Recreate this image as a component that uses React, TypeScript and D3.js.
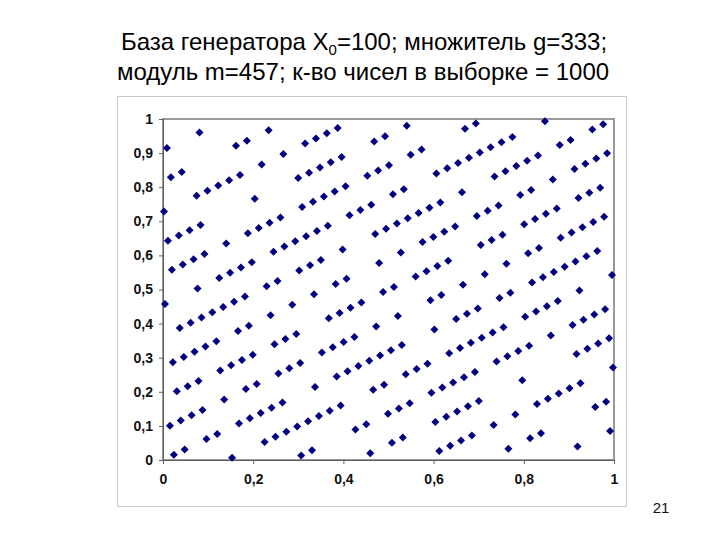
import React, { useRef, useEffect } from 'react';
import * as d3 from 'd3';

const titleLine1 = ['База генератора X', '0', '=100; множитель g=333;'];
const titleLine2 = 'модуль m=457; к-во чисел в выборке = 1000';
const pageNumber = '21';
const modulus = 457;

// one full period of the generator X(n+1) = 333*X(n) mod 457, X0 = 100
const sampleX = [
  100, 396, 252, 285, 306, 444, 241, 278, 260, 207, 381, 284, 430, 149, 261, 83, 219, 264, 168, 190,
  204, 296, 313, 33, 21, 138, 254, 37, 439, 404, 174, 360, 146, 176, 112, 279, 136, 45, 361, 22,
  14, 92, 17, 177, 445, 117, 116, 240, 402, 422, 227, 186, 243, 30, 393, 167, 314, 366, 316, 118,
  449, 78, 382, 160, 268, 129, 456, 124, 162, 20, 262, 416, 57, 244, 363, 231, 147, 52, 407, 259,
  331, 86, 304, 235, 108, 318, 327, 125, 38, 315, 242, 154, 98, 187, 119, 325, 373, 362, 355, 309,
  72, 212, 218, 388, 330, 210, 9, 255, 370, 277, 384, 369, 401, 89, 389, 206, 48, 446, 450, 411,
  220, 140, 6, 170, 399, 337, 256, 246, 115, 364, 107, 442, 32, 145, 300, 274, 299, 398, 4, 418,
  266, 377, 323, 164, 229, 395, 376, 447, 326, 249, 200, 335, 47, 113, 155, 431, 25, 99, 63, 414,
  305, 111, 403, 298, 65, 166, 438, 71, 336, 380, 408, 135, 169, 66, 42, 276, 51, 74, 421, 351,
  348, 263, 292, 352, 224, 101, 272, 90, 265, 44, 28, 184, 34, 354, 433, 234, 232, 23, 347, 387,
  454, 372, 29, 60, 329, 334, 171, 275, 175, 236, 441, 156, 307, 320, 79, 258, 455, 248, 324, 40,
  67, 375, 114, 31, 269, 5, 294, 104, 357, 61, 205, 172, 151, 13, 216, 179, 197, 250, 76, 173,
  27, 308, 196, 374, 238, 193, 289, 267, 253, 161, 144, 424, 436, 319, 203, 420, 18, 53, 283, 97,
  311, 281, 345, 178, 321, 412, 96, 435, 443, 365, 440, 280, 12, 340, 341, 217, 55, 35, 230, 271,
  214, 427, 64, 290, 143, 91, 141, 339, 8, 379, 75, 297, 189, 328, 1, 333, 295, 437, 195, 41,
  400, 213, 94, 226, 310, 405, 50, 198, 126, 371, 153, 222, 349, 139, 130, 332, 419, 142, 215, 303,
  359, 270, 338, 132, 84, 95, 102, 148, 385, 245, 239, 69, 127, 247, 448, 202, 87, 180, 73, 88,
  56, 368, 68, 251, 409, 11, 7, 46, 237, 317, 451, 287, 58, 120, 201, 211, 342, 93, 350, 15,
  425, 312, 157, 183, 158, 59, 453, 39, 191, 80, 134, 293, 228, 62, 81, 10, 131, 208, 257, 122,
  410, 344, 302, 26, 432, 358, 394, 43, 152, 346, 54, 159, 392, 291, 19, 386, 121, 77, 49, 322,
  288, 391, 415, 181, 406, 383, 36, 106, 109, 194, 165, 105, 233, 356, 185, 367, 192, 413, 429, 273,
  423, 103, 24, 223, 225, 434, 110, 70, 3, 85, 428, 397, 128, 123, 286, 182, 282, 221, 16, 301,
  150, 137, 378, 199, 2, 209, 133, 417, 390, 82, 343, 426, 188, 452, 163, 353,
];

const yTicks = [0, 0.1, 0.2, 0.3, 0.4, 0.5, 0.6, 0.7, 0.8, 0.9, 1];
const yTickLabels = ['0', '0,1', '0,2', '0,3', '0,4', '0,5', '0,6', '0,7', '0,8', '0,9', '1'];
const xTicks = [0, 0.2, 0.4, 0.6, 0.8, 1];
const xTickLabels = ['0', '0,2', '0,4', '0,6', '0,8', '1'];

const FONT = '"Liberation Sans", Arial, sans-serif';

function App() {
  const svgRef = useRef(null);
  const width = 720;
  const height = 540;
  const plot = { left: 163, top: 119, right: 614, bottom: 460 };

  useEffect(() => {
    const svg = d3.select(svgRef.current);
    svg.selectAll('*').remove();

    // (X(n), X(n+1)) pairs as on the slide: every third pair is not plotted
    const pairs = sampleX
      .slice(0, -1)
      .map((x, i) => ({ i, x: x / modulus, y: sampleX[i + 1] / modulus }))
      .filter((d) => d.i % 3 !== 2);

    const xScale = d3.scaleLinear().domain([0, 1]).range([plot.left, plot.right]);
    const yScale = d3.scaleLinear().domain([0, 1]).range([plot.bottom, plot.top]);

    svg.append('rect').attr('width', width).attr('height', height).attr('fill', '#fff');

    // title
    const t1 = svg
      .append('text')
      .attr('x', 364)
      .attr('y', 50)
      .attr('text-anchor', 'middle')
      .attr('font-family', FONT)
      .attr('font-size', 24)
      .attr('fill', '#000');
    t1.append('tspan').text(titleLine1[0]);
    t1.append('tspan').attr('font-size', 15).attr('dy', 5).text(titleLine1[1]);
    t1.append('tspan').attr('dy', -5).text(titleLine1[2]);

    svg
      .append('text')
      .attr('x', 363)
      .attr('y', 80)
      .attr('text-anchor', 'middle')
      .attr('font-family', FONT)
      .attr('font-size', 24)
      .attr('fill', '#000')
      .text(titleLine2);

    // chart frame
    svg
      .append('rect')
      .attr('x', 117.5)
      .attr('y', 96.5)
      .attr('width', 509)
      .attr('height', 410)
      .attr('fill', 'none')
      .attr('stroke', '#c8c8c8');

    // plot area border
    svg
      .append('rect')
      .attr('x', plot.left)
      .attr('y', plot.top)
      .attr('width', plot.right - plot.left)
      .attr('height', plot.bottom - plot.top)
      .attr('fill', 'none')
      .attr('stroke', '#9a9a9a')
      .attr('stroke-width', 2);

    const yAxis = d3
      .axisLeft(yScale)
      .tickValues(yTicks)
      .tickFormat((d, i) => yTickLabels[i])
      .tickSize(4)
      .tickPadding(6);
    const yAxisGroup = svg.append('g').attr('transform', `translate(${plot.left},0)`).call(yAxis);
    yAxisGroup.select('.domain').attr('stroke', '#606060');
    yAxisGroup.selectAll('line').attr('stroke', '#606060');
    yAxisGroup
      .selectAll('text')
      .attr('font-family', FONT)
      .attr('font-size', 14)
      .attr('font-weight', 'bold')
      .attr('fill', '#111');

    const xAxis = d3
      .axisBottom(xScale)
      .tickValues(xTicks)
      .tickFormat((d, i) => xTickLabels[i])
      .tickSize(4)
      .tickPadding(10);
    const xAxisGroup = svg.append('g').attr('transform', `translate(0,${plot.bottom})`).call(xAxis);
    xAxisGroup.select('.domain').attr('stroke', '#606060');
    xAxisGroup.selectAll('line').attr('stroke', '#606060');
    xAxisGroup
      .selectAll('text')
      .attr('font-family', FONT)
      .attr('font-size', 14)
      .attr('font-weight', 'bold')
      .attr('fill', '#111');

    const diamond = d3.symbol(d3.symbolSquare, 32);
    svg
      .append('g')
      .selectAll('path')
      .data(pairs)
      .enter()
      .append('path')
      .attr('d', diamond)
      .attr('transform', (d) => `translate(${xScale(d.x)},${yScale(d.y)}) rotate(45)`)
      .attr('fill', '#000080');

    svg
      .append('text')
      .attr('x', 661)
      .attr('y', 513)
      .attr('text-anchor', 'middle')
      .attr('font-family', FONT)
      .attr('font-size', 15)
      .attr('fill', '#111')
      .text(pageNumber);
  }, []);

  return (
    <svg
      ref={svgRef}
      width={width}
      height={height}
      style={{ position: 'absolute', left: 0, top: 0, display: 'block' }}
    />
  );
}

export default App;
